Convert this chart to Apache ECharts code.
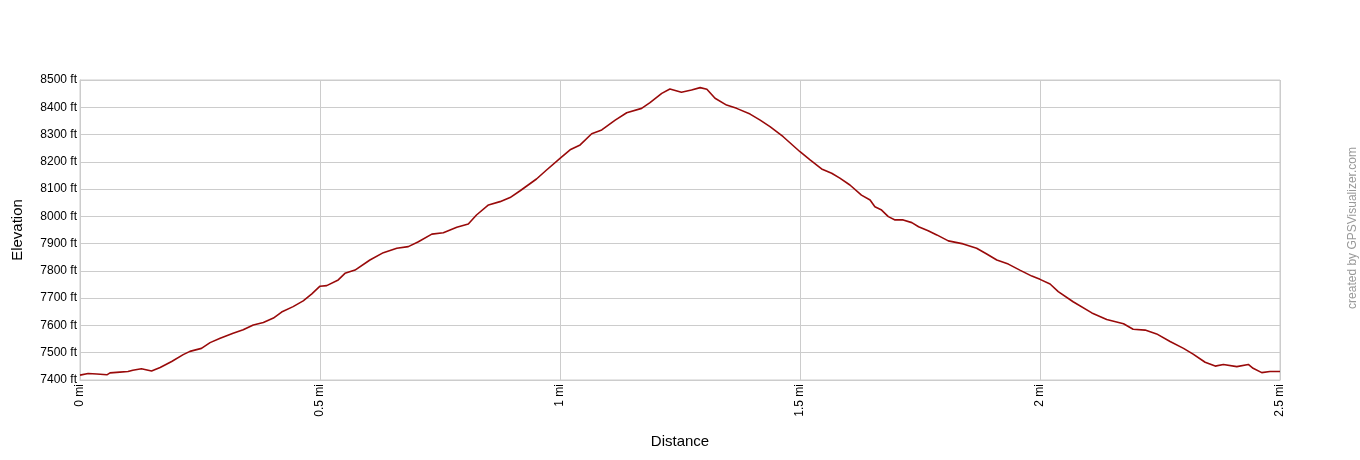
<!DOCTYPE html>
<html>
<head>
<meta charset="utf-8">
<script src="https://cdn.jsdelivr.net/npm/echarts@6/dist/echarts.min.js"></script>
<style>html,body{margin:0;padding:0;background:#fff;}#c{width:1360px;height:460px;}</style>
</head>
<body>
<div id="c"></div>
<script>
const distanceMi = [0, 0.017, 0.035, 0.056, 0.0625, 0.083, 0.1, 0.11, 0.128, 0.149,
  0.167, 0.191, 0.215, 0.229, 0.253, 0.271, 0.292, 0.319, 0.340, 0.361,
  0.382, 0.403, 0.420, 0.444, 0.465, 0.483, 0.5, 0.514, 0.538, 0.552,
  0.573, 0.604, 0.632, 0.660, 0.684, 0.705, 0.733, 0.757, 0.785, 0.809,
  0.826, 0.851, 0.875, 0.896, 0.917, 0.951, 0.972, 1.0, 1.021, 1.042,
  1.066, 1.087, 1.115, 1.139, 1.170, 1.1875, 1.212, 1.229, 1.253, 1.274,
  1.292, 1.306, 1.323, 1.347, 1.368, 1.396, 1.417, 1.4375, 1.465, 1.5,
  1.521, 1.545, 1.566, 1.583, 1.604, 1.628, 1.646, 1.656, 1.670, 1.684,
  1.698, 1.715, 1.733, 1.747, 1.767, 1.785, 1.809, 1.840, 1.868, 1.889,
  1.910, 1.934, 1.958, 1.983, 2.0, 2.021, 2.038, 2.069, 2.108, 2.139,
  2.174, 2.194, 2.219, 2.243, 2.271, 2.299, 2.319, 2.344, 2.365, 2.382,
  2.410, 2.434, 2.444, 2.462, 2.479, 2.5];
const elevationFt = [7418, 7424, 7422, 7419, 7426, 7429, 7431, 7436, 7441, 7433,
  7446, 7468, 7493, 7505, 7516, 7537, 7553, 7571, 7584, 7602,
  7611, 7627, 7649, 7669, 7690, 7716, 7744, 7746, 7767, 7791,
  7803, 7840, 7867, 7883, 7889, 7907, 7935, 7940, 7960, 7972,
  8005, 8042, 8054, 8069, 8094, 8137, 8170, 8213, 8244, 8262,
  8303, 8317, 8353, 8380, 8396, 8417, 8451, 8467, 8455, 8463,
  8472, 8466, 8433, 8408, 8396, 8375, 8353, 8329, 8292, 8237,
  8207, 8174, 8158, 8140, 8115, 8078, 8060, 8035, 8023, 7999,
  7987, 7987, 7977, 7962, 7947, 7932, 7910, 7899, 7883, 7862,
  7840, 7825, 7803, 7781, 7769, 7752, 7724, 7687, 7646, 7622,
  7606, 7586, 7583, 7569, 7541, 7516, 7495, 7465, 7451, 7457,
  7449, 7457, 7443, 7427, 7431, 7431];
const xTickUnit = 'mi';
const yTickUnit = 'ft';
const xName = 'Distance';
const yName = 'Elevation';
const credit = 'created by GPSVisualizer.com';

const chart = echarts.init(document.getElementById('c'), null, {renderer: 'canvas'});
const font = '"Liberation Sans", Arial, sans-serif';
chart.setOption({
  animation: false,
  backgroundColor: '#fff',
  grid: {left: 80, right: 80, top: 80, bottom: 80, show: true, borderColor: '#cccccc', borderWidth: 1,
    containLabel: false, outerBoundsMode: 'none'},
  xAxis: {
    type: 'value', min: 0, max: 2.5, interval: 0.5,
    name: xName, nameLocation: 'middle', nameGap: 54,
    nameTextStyle: {fontFamily: font, fontSize: 15, color: '#000'},
    axisLine: {show: true, lineStyle: {color: '#cccccc'}},
    axisTick: {show: false},
    splitLine: {show: true, lineStyle: {color: '#cccccc', width: 1}},
    axisLabel: {rotate: 90, margin: 4, fontFamily: font, fontSize: 12, color: '#000',
      formatter: v => v + ' ' + xTickUnit}
  },
  yAxis: {
    type: 'value', min: 7400, max: 8500, interval: 100,
    name: yName, nameLocation: 'middle', nameGap: 55, nameRotate: 90,
    nameTextStyle: {fontFamily: font, fontSize: 15, color: '#000'},
    axisLine: {show: true, lineStyle: {color: '#cccccc'}},
    axisTick: {show: false},
    splitLine: {show: true, lineStyle: {color: '#cccccc', width: 1}},
    axisLabel: {margin: 3, fontFamily: font, fontSize: 12, color: '#000',
      formatter: v => v + ' ' + yTickUnit}
  },
  graphic: [{
    type: 'text', x: 1353, y: 228, rotation: Math.PI / 2,
    style: {text: credit, fontFamily: font, fontSize: 12, fill: '#999999',
      align: 'center', verticalAlign: 'middle'}
  }],
  series: [{
    type: 'line', symbol: 'none',
    data: distanceMi.map((d, i) => [d, elevationFt[i]]),
    lineStyle: {color: '#990a0a', width: 1.6},
    itemStyle: {color: '#990a0a'}
  }]
});
</script>
</body>
</html>
